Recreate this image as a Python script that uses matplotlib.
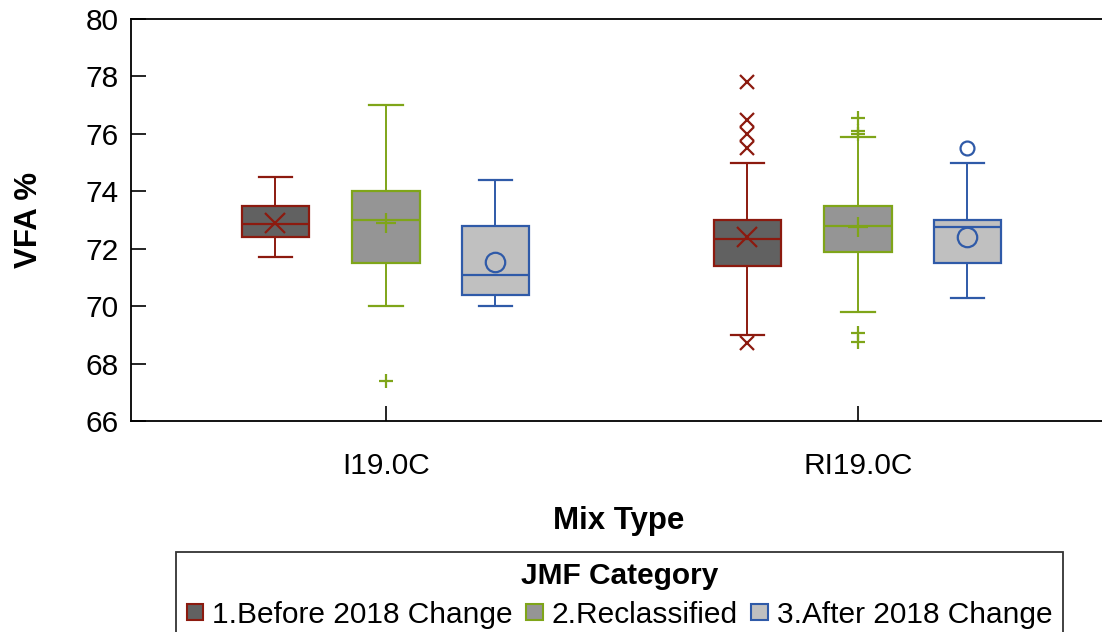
import numpy as np
import matplotlib.pyplot as plt
from matplotlib.patches import Patch

plt.rcParams['font.family'] = ['Liberation Sans', 'DejaVu Sans']

# Data
mix_types = ["I19.0C", "RI19.0C"]
categories = ["1.Before 2018 Change", "2.Reclassified", "3.After 2018 Change"]

q1 = [[72.4, 71.4], [71.5, 71.9], [70.4, 71.5]]
med = [[72.85, 72.35], [73.0, 72.8], [71.1, 72.75]]
q3 = [[73.5, 73.0], [74.0, 73.5], [72.8, 73.0]]
whislo = [[71.7, 69.0], [70.0, 69.8], [70.0, 70.3]]
whishi = [[74.5, 75.0], [77.0, 75.9], [74.4, 75.0]]
means = [[72.9, 72.4], [72.9, 72.75], [71.55, 72.4]]
fliers = [[[], [77.8, 76.5, 76.0, 75.5, 68.7]],
          [[67.4], [76.55, 76.1, 76.0, 69.05, 68.75]],
          [[], [75.5]]]

# Styles
edge_colors = ['#8c1a0f', '#7fa519', '#2f5aa8']
face_colors = ['#616161', '#959595', '#c0c0c0']
markers = ['x', '+', 'o']
offsets = [-0.234, 0.0, 0.232]
width = 0.143
fs = 21.5

fig = plt.figure(figsize=(11.02, 6.32), dpi=100)
ax = fig.add_axes([131/1102, 211/632, 975/1102, 402/632])

for i in range(3):
    stats = []
    for g in range(2):
        stats.append({'q1': q1[i][g], 'med': med[i][g], 'q3': q3[i][g],
                      'whislo': whislo[i][g], 'whishi': whishi[i][g],
                      'mean': means[i][g], 'fliers': np.array(fliers[i][g])})
    c = edge_colors[i]
    pos = [g + offsets[i] for g in range(2)]
    ax.bxp(stats, positions=pos, widths=width, capwidths=width/2,
           patch_artist=True, showmeans=True, manage_ticks=False,
           boxprops=dict(facecolor=face_colors[i], edgecolor=c, linewidth=1.6),
           medianprops=dict(color=c, linewidth=1.6),
           whiskerprops=dict(color=c, linewidth=1.4),
           capprops=dict(color=c, linewidth=1.6),
           meanprops=dict(marker=markers[i], markeredgecolor=c, markerfacecolor='none',
                          markersize=14, markeredgewidth=1.6),
           flierprops=dict(marker=markers[i], markeredgecolor=c, markerfacecolor='none',
                           markersize=10, markeredgewidth=1.6))

ax.set_xlim(-0.540, 1.5255)
ax.set_ylim(66, 80)
ax.set_yticks(np.arange(66, 81, 2))
ax.set_xticks([0, 1])
ax.set_xticklabels(mix_types)
ax.tick_params(axis='both', direction='in', length=11, width=1.2, labelsize=fs)
ax.tick_params(axis='y', pad=9)
ax.tick_params(axis='x', pad=22)
ax.spines['right'].set_visible(False)
for s in ['left', 'top', 'bottom']:
    ax.spines[s].set_linewidth(1.3)

ax.set_xlabel('Mix Type', fontsize=22.5, fontweight='bold', labelpad=19)
ax.set_ylabel('VFA %', fontsize=22.5, fontweight='bold', labelpad=30)

handles = [Patch(facecolor=face_colors[i], edgecolor=edge_colors[i], linewidth=1.5)
           for i in range(3)]
leg = fig.legend(handles, categories, loc='upper center', ncol=3,
                 bbox_to_anchor=(619.5/1102, 1 - 552/632), borderaxespad=0,
                 fontsize=fs,
                 title='JMF Category', title_fontproperties={'size': fs, 'weight': 'bold'},
                 frameon=True, fancybox=False, edgecolor='black',
                 handlelength=0.55, handleheight=0.47, handletextpad=0.3,
                 columnspacing=0.45, borderpad=0.35, labelspacing=0.35)
leg.get_frame().set_linewidth(1.3)

fig.savefig('out.png', dpi=100)
